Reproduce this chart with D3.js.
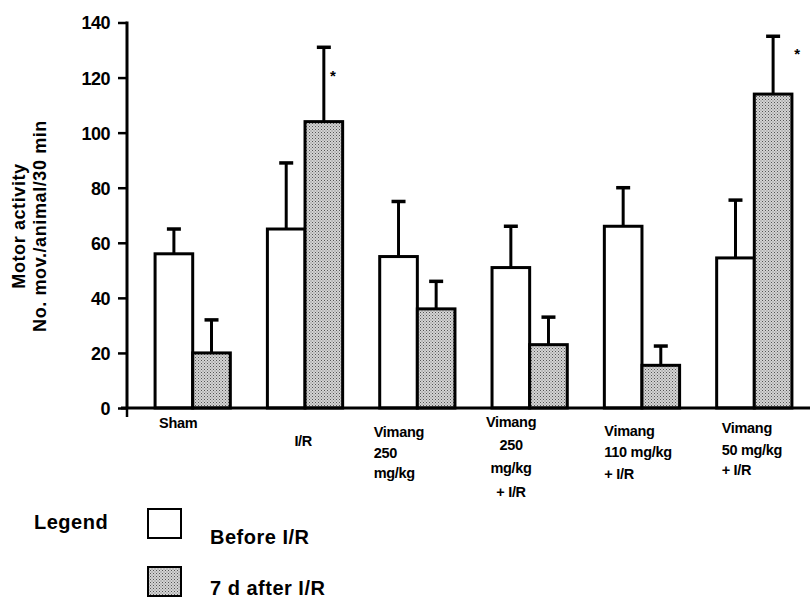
<!DOCTYPE html>
<html><head><meta charset="utf-8">
<script src="https://cdn.jsdelivr.net/npm/d3@7"></script>
<style>
body{margin:0;background:#fff;}
text{font-family:"Liberation Sans",Arial,Helvetica,sans-serif;font-weight:bold;fill:#000;}
</style></head>
<body>
<svg id="chart" width="810" height="605"></svg>
<script>
const categories = ["Sham", "I/R", "Vimang 250 mg/kg", "Vimang 250 mg/kg + I/R", "Vimang 110 mg/kg + I/R", "Vimang 50 mg/kg + I/R"];
const categoryLines = [["Sham"], ["I/R"], ["Vimang", "250", "mg/kg"], ["Vimang", "250", "mg/kg", "+ I/R"], ["Vimang", "110 mg/kg", "+ I/R"], ["Vimang", "50 mg/kg", "+ I/R"]];
const seriesNames = ["Before I/R", "7 d after I/R"];
const beforeValues = [56, 65, 55, 51, 66, 54.5];
const beforeErrors = [9, 24, 20, 15, 14, 21];
const afterValues = [20, 104, 36, 23, 15.5, 114];
const afterErrors = [12, 27, 10, 10, 7, 21];
const starCategories = ["I/R", "Vimang 50 mg/kg + I/R"];
const starValues = [121.5, 129.5];
const yTicks = [0, 20, 40, 60, 80, 100, 120, 140];
const yLabelLines = ["Motor activity", "No. mov./animal/30 min"];
const legendTitle = "Legend";

const svg = d3.select("#chart");
const defs = svg.append("defs");
const pat = defs.append("pattern").attr("id","stip").attr("patternUnits","userSpaceOnUse")
  .attr("width",3).attr("height",3);
pat.append("rect").attr("width",3).attr("height",3).attr("fill","#d4d4d4");
pat.append("rect").attr("x",0).attr("y",0).attr("width",1).attr("height",1).attr("fill","#555");
pat.append("rect").attr("x",1.5).attr("y",1.5).attr("width",1).attr("height",1).attr("fill","#777");

const x0 = 127, yBottom = 408, yTop = 22.5;
const x = d3.scaleBand().domain(categories).range([x0, 820]).paddingInner(0.33).paddingOuter(0.25);
const xs = d3.scaleBand().domain(seriesNames).range([0, x.bandwidth()]);
const y = d3.scaleLinear().domain([0, 140]).range([yBottom, yTop]);

const rows = [];
categories.forEach((c, i) => {
  rows.push({c, s: seriesNames[0], v: beforeValues[i], e: beforeErrors[i]});
  rows.push({c, s: seriesNames[1], v: afterValues[i], e: afterErrors[i]});
});

// error bars (behind bars)
const eb = svg.append("g");
rows.forEach(d => {
  const cx = x(d.c) + xs(d.s) + xs.bandwidth()/2;
  eb.append("line").attr("x1",cx).attr("x2",cx).attr("y1",y(d.v)).attr("y2",y(d.v+d.e))
    .attr("stroke","#000").attr("stroke-width",3);
  eb.append("line").attr("x1",cx-7).attr("x2",cx+7).attr("y1",y(d.v+d.e)).attr("y2",y(d.v+d.e))
    .attr("stroke","#000").attr("stroke-width",3.5);
});

// bars
svg.append("g").selectAll("rect").data(rows).join("rect")
  .attr("x", d => x(d.c) + xs(d.s))
  .attr("y", d => y(d.v))
  .attr("width", xs.bandwidth())
  .attr("height", d => y(0) - y(d.v))
  .attr("fill", d => d.s === seriesNames[0] ? "#fff" : "url(#stip)")
  .attr("stroke", "#000").attr("stroke-width", 3);

// stars
starCategories.forEach((c, i) => {
  const off = i === 0 ? 9 : 24;
  const cx = x(c) + xs(seriesNames[1]) + xs.bandwidth()/2 + off;
  svg.append("text").attr("x", cx).attr("y", y(starValues[i]) + 8)
    .attr("text-anchor","middle").attr("font-size",15).text("*");
});

// y axis
const yAxis = d3.axisLeft(y).tickValues(yTicks).tickSize(9).tickPadding(8);
const gy = svg.append("g").attr("transform", `translate(${x0},0)`).call(yAxis);
gy.select(".domain").attr("d", `M0,${yTop-1}V${yBottom}`).attr("stroke-width",3);
gy.selectAll(".tick line").attr("stroke-width",2.5);
gy.selectAll(".tick text").attr("font-size",18).attr("font-family","Liberation Sans, Arial, sans-serif")
  .attr("font-weight","bold").attr("dy","0.36em").attr("letter-spacing","-0.5");

// x axis line
svg.append("line").attr("x1",121).attr("x2",810).attr("y1",yBottom).attr("y2",yBottom)
  .attr("stroke","#000").attr("stroke-width",3);
svg.append("line").attr("x1",x0).attr("x2",x0).attr("y1",yBottom).attr("y2",yBottom+9)
  .attr("stroke","#000").attr("stroke-width",2.5);

// category labels
const labelSpec = [
  {dx: 4, anchor: "start", base: [428]},
  {dx: 27, anchor: "start", base: [446]},
  {dx: -6, anchor: "start", base: [437, 458, 478]},
  {dx: 19, anchor: "middle", base: [427, 450, 473, 497]},
  {dx: 0, anchor: "start", base: [436, 457, 479]},
  {dx: 5, anchor: "start", base: [433, 455, 475]}
];
categories.forEach((c, i) => {
  const sp = labelSpec[i];
  categoryLines[i].forEach((t, j) => {
    svg.append("text").attr("x", x(c) + sp.dx).attr("y", sp.base[j])
      .attr("text-anchor", sp.anchor).attr("font-size", 14.5).attr("letter-spacing","-0.3").text(t);
  });
});

// y label
const yl = svg.append("g").attr("transform","translate(25,226) rotate(-90)");
yl.append("text").attr("x",0).attr("y",0).attr("text-anchor","middle").attr("font-size",18).attr("letter-spacing","0.6").text(yLabelLines[0]);
yl.append("text").attr("x",0).attr("y",21).attr("text-anchor","middle").attr("font-size",18).attr("letter-spacing","0.6").text(yLabelLines[1]);

// legend
svg.append("text").attr("x",34).attr("y",529).attr("font-size",20).attr("letter-spacing","0.5").text(legendTitle);
const lg = svg.append("g");
const legendRowTop = [509, 567];
const legendTextBase = [544, 595];
seriesNames.forEach((s, i) => {
  lg.append("rect").attr("x",148).attr("y",legendRowTop[i]).attr("width",33).attr("height",29)
    .attr("fill", i === 0 ? "#fff" : "url(#stip)").attr("stroke","#000").attr("stroke-width",2);
  lg.append("text").attr("x",210).attr("y",legendTextBase[i]).attr("font-size",20).attr("letter-spacing","0.5").text(s);
});
</script>
</body></html>
